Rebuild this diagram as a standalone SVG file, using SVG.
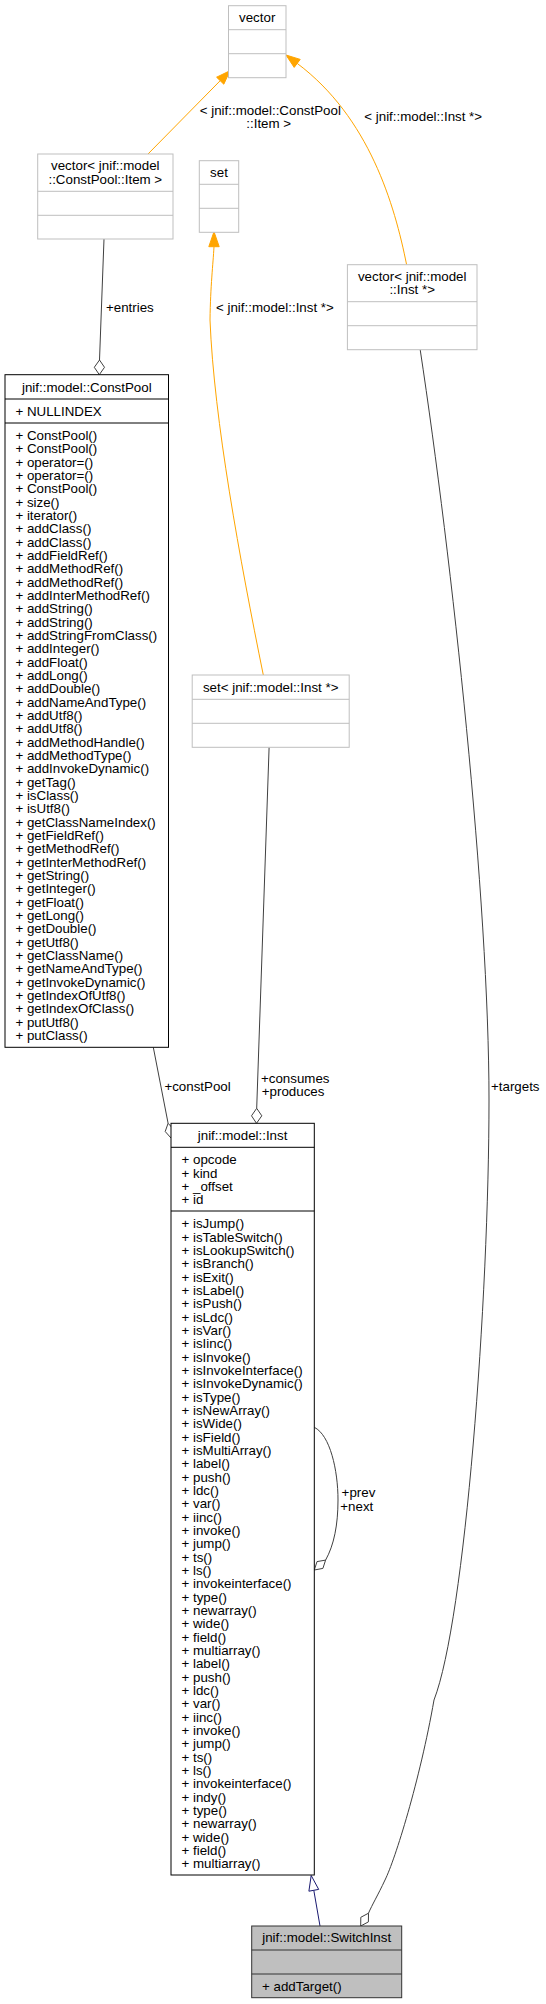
<svg xmlns="http://www.w3.org/2000/svg" width="546" height="2004" viewBox="0 0 546 2004">
<style>
text { font-family: "Liberation Sans", Arial, Helvetica, sans-serif; font-size: 13.33px; fill: #000; }
.c { text-anchor: middle; }
.grey rect, .grey line { stroke: #bfbfbf; stroke-width: 1; fill: #fff; }
.blk rect, .blk line { stroke: #000; stroke-width: 1; fill: #fff; }
.focus rect { fill: #bfbfbf; stroke: #333; stroke-width: 1; }
.focus line { stroke: #333; stroke-width: 1; }
.tmpl { stroke: #ffa500; stroke-width: 1; fill: none; }
.tmplhead { fill: #ffa500; stroke: #ffa500; stroke-width: 1; }
.use { stroke: #404040; stroke-width: 1; fill: none; }
.dia { fill: #fff; stroke: #404040; stroke-width: 1; }
.inh { stroke: #191970; stroke-width: 1; fill: none; }
.inhhead { fill: #fff; stroke: #191970; stroke-width: 1; }
</style>
<rect x="0" y="0" width="546" height="2004" fill="#fff"/>

<g id="connectors">
  <!-- vector<ConstPool::Item> -> vector -->
  <line class="tmpl" x1="148" y1="154" x2="220.2" y2="80.7"/>
  <polygon class="tmplhead" points="230,70.7 223.8,84.2 216.6,77.2"/>
  <text class="c" x="270.3" y="114.5">&lt; jnif::model::ConstPool</text>
  <text class="c" x="268.7" y="128">::Item &gt;</text>
  <!-- vector<Inst*> -> vector -->
  <path class="tmpl" d="M406.6,264.7 C394.6,204.7 369.2,117.4 297.2,63.4"/>
  <polygon class="tmplhead" points="286,55 300.2,59.4 294.2,67.4"/>
  <text x="364.3" y="121">&lt; jnif::model::Inst *&gt;</text>
  <!-- set<Inst*> -> set -->
  <path class="tmpl" d="M263.3,675 C240,560 214,420 210,320 C210.5,285 213,265 214,246.7"/>
  <polygon class="tmplhead" points="214,231.7 219.2,246.7 208.8,246.7"/>
  <text x="216" y="311.7">&lt; jnif::model::Inst *&gt;</text>
  <!-- entries -->
  <line class="use" x1="104" y1="239" x2="99.5" y2="360"/>
  <polygon class="dia" points="99.5,360 104.5,367.3 99.3,374.7 94.3,367.3"/>
  <text x="106" y="311.7">+entries</text>
  <!-- constPool -->
  <line class="use" x1="153.3" y1="1047.3" x2="168.1" y2="1123.3"/>
  <polygon class="dia" points="168.1,1123.3 174,1129.7 171,1138 165.2,1131.5"/>
  <text x="164.4" y="1090.5">+constPool</text>
  <!-- consumes / produces -->
  <line class="use" x1="269.1" y1="747.3" x2="256.7" y2="1108.3"/>
  <polygon class="dia" points="256.7,1108.3 261.8,1115.8 256.5,1123.3 251.5,1115.8"/>
  <text x="261" y="1083">+consumes</text>
  <text x="261.8" y="1096.3">+produces</text>
  <!-- targets -->
  <path class="use" d="M420.2,349.7 C452,560 489,900 489,1100 C489,1300 465,1620 434,1700 C420,1780 395,1860 385,1880 C378,1895 372,1905 368.5,1913.2"/>
  <polygon class="dia" points="368.5,1913.2 368.4,1921.9 360.7,1926 360.8,1917.3"/>
  <text x="491" y="1090.5">+targets</text>
  <!-- prev / next self loop -->
  <path class="use" d="M314.3,1427.3 C330,1435 338,1470 338,1500 C338,1525 334,1545 325.6,1560.1"/>
  <polygon class="dia" points="325.6,1560.1 322.9,1568.4 314.3,1570 317,1561.6"/>
  <text x="341.6" y="1497">+prev</text>
  <text x="340.3" y="1510.5">+next</text>
  <!-- inheritance SwitchInst -> Inst -->
  <line class="inh" x1="320" y1="1926" x2="313.8" y2="1890.3"/>
  <polygon class="inhhead" points="311.2,1875.5 318.7,1889.4 308.9,1891.2"/>
</g>

<g id="node-vector" class="grey">
  <rect x="228.5" y="5.7" width="57.5" height="72"/>
  <line x1="228.5" y1="29.7" x2="286" y2="29.7"/>
  <line x1="228.5" y1="53.7" x2="286" y2="53.7"/>
  <text class="c" x="257.2" y="22">vector</text>
</g>

<g id="node-vector-constpool-item" class="grey">
  <rect x="37.7" y="154" width="135.3" height="85"/>
  <line x1="37.7" y1="191.3" x2="173" y2="191.3"/>
  <line x1="37.7" y1="215.3" x2="173" y2="215.3"/>
  <text class="c" x="105.3" y="170">vector&lt; jnif::model</text>
  <text class="c" x="105.3" y="183.5">::ConstPool::Item &gt;</text>
</g>

<g id="node-set" class="grey">
  <rect x="199.3" y="160.7" width="39.4" height="71.6"/>
  <line x1="199.3" y1="184.3" x2="238.7" y2="184.3"/>
  <line x1="199.3" y1="208.3" x2="238.7" y2="208.3"/>
  <text class="c" x="219" y="177">set</text>
</g>

<g id="node-vector-inst" class="grey">
  <rect x="347.4" y="264.7" width="129.6" height="85"/>
  <line x1="347.4" y1="301.7" x2="477" y2="301.7"/>
  <line x1="347.4" y1="325.7" x2="477" y2="325.7"/>
  <text class="c" x="412.2" y="280.5">vector&lt; jnif::model</text>
  <text class="c" x="412.2" y="294">::Inst *&gt;</text>
</g>

<g id="node-set-inst" class="grey">
  <rect x="192.2" y="675" width="157" height="72.3"/>
  <line x1="192.2" y1="699.3" x2="349.2" y2="699.3"/>
  <line x1="192.2" y1="723.3" x2="349.2" y2="723.3"/>
  <text class="c" x="270.7" y="691.5">set&lt; jnif::model::Inst *&gt;</text>
</g>

<g id="node-constpool" class="blk">
  <rect x="5" y="374.7" width="163.5" height="672.6"/>
  <line x1="5" y1="399" x2="168.5" y2="399"/>
  <line x1="5" y1="423" x2="168.5" y2="423"/>
  <text class="c" x="86.8" y="391.5">jnif::model::ConstPool</text>
  <text x="15.4" y="415.7">+ NULLINDEX</text>
  <text x="15.4" y="440">+ ConstPool()</text>
  <text x="15.4" y="453.33">+ ConstPool()</text>
  <text x="15.4" y="466.67">+ operator=()</text>
  <text x="15.4" y="480">+ operator=()</text>
  <text x="15.4" y="493.33">+ ConstPool()</text>
  <text x="15.4" y="506.67">+ size()</text>
  <text x="15.4" y="520">+ iterator()</text>
  <text x="15.4" y="533.33">+ addClass()</text>
  <text x="15.4" y="546.67">+ addClass()</text>
  <text x="15.4" y="560">+ addFieldRef()</text>
  <text x="15.4" y="573.33">+ addMethodRef()</text>
  <text x="15.4" y="586.67">+ addMethodRef()</text>
  <text x="15.4" y="600">+ addInterMethodRef()</text>
  <text x="15.4" y="613.33">+ addString()</text>
  <text x="15.4" y="626.67">+ addString()</text>
  <text x="15.4" y="640">+ addStringFromClass()</text>
  <text x="15.4" y="653.33">+ addInteger()</text>
  <text x="15.4" y="666.67">+ addFloat()</text>
  <text x="15.4" y="680">+ addLong()</text>
  <text x="15.4" y="693.33">+ addDouble()</text>
  <text x="15.4" y="706.67">+ addNameAndType()</text>
  <text x="15.4" y="720">+ addUtf8()</text>
  <text x="15.4" y="733.33">+ addUtf8()</text>
  <text x="15.4" y="746.67">+ addMethodHandle()</text>
  <text x="15.4" y="760">+ addMethodType()</text>
  <text x="15.4" y="773.33">+ addInvokeDynamic()</text>
  <text x="15.4" y="786.67">+ getTag()</text>
  <text x="15.4" y="800">+ isClass()</text>
  <text x="15.4" y="813.33">+ isUtf8()</text>
  <text x="15.4" y="826.67">+ getClassNameIndex()</text>
  <text x="15.4" y="840">+ getFieldRef()</text>
  <text x="15.4" y="853.33">+ getMethodRef()</text>
  <text x="15.4" y="866.67">+ getInterMethodRef()</text>
  <text x="15.4" y="880">+ getString()</text>
  <text x="15.4" y="893.33">+ getInteger()</text>
  <text x="15.4" y="906.67">+ getFloat()</text>
  <text x="15.4" y="920">+ getLong()</text>
  <text x="15.4" y="933.33">+ getDouble()</text>
  <text x="15.4" y="946.67">+ getUtf8()</text>
  <text x="15.4" y="960">+ getClassName()</text>
  <text x="15.4" y="973.33">+ getNameAndType()</text>
  <text x="15.4" y="986.67">+ getInvokeDynamic()</text>
  <text x="15.4" y="1000">+ getIndexOfUtf8()</text>
  <text x="15.4" y="1013.33">+ getIndexOfClass()</text>
  <text x="15.4" y="1026.67">+ putUtf8()</text>
  <text x="15.4" y="1040">+ putClass()</text>
</g>

<g id="node-inst" class="blk">
  <rect x="171" y="1123.3" width="143.3" height="751.7"/>
  <line x1="171" y1="1147.3" x2="314.3" y2="1147.3"/>
  <line x1="171" y1="1211" x2="314.3" y2="1211"/>
  <text class="c" x="242.6" y="1139.7">jnif::model::Inst</text>
  <text x="181.5" y="1164.3">+ opcode</text>
  <text x="181.5" y="1177.6">+ kind</text>
  <text x="181.5" y="1191">+ _offset</text>
  <text x="181.5" y="1204.3">+ id</text>
  <text x="181.5" y="1228.3">+ isJump()</text>
  <text x="181.5" y="1241.63">+ isTableSwitch()</text>
  <text x="181.5" y="1254.97">+ isLookupSwitch()</text>
  <text x="181.5" y="1268.3">+ isBranch()</text>
  <text x="181.5" y="1281.63">+ isExit()</text>
  <text x="181.5" y="1294.97">+ isLabel()</text>
  <text x="181.5" y="1308.3">+ isPush()</text>
  <text x="181.5" y="1321.63">+ isLdc()</text>
  <text x="181.5" y="1334.97">+ isVar()</text>
  <text x="181.5" y="1348.3">+ isIinc()</text>
  <text x="181.5" y="1361.63">+ isInvoke()</text>
  <text x="181.5" y="1374.97">+ isInvokeInterface()</text>
  <text x="181.5" y="1388.3">+ isInvokeDynamic()</text>
  <text x="181.5" y="1401.63">+ isType()</text>
  <text x="181.5" y="1414.97">+ isNewArray()</text>
  <text x="181.5" y="1428.3">+ isWide()</text>
  <text x="181.5" y="1441.63">+ isField()</text>
  <text x="181.5" y="1454.97">+ isMultiArray()</text>
  <text x="181.5" y="1468.3">+ label()</text>
  <text x="181.5" y="1481.63">+ push()</text>
  <text x="181.5" y="1494.97">+ ldc()</text>
  <text x="181.5" y="1508.3">+ var()</text>
  <text x="181.5" y="1521.63">+ iinc()</text>
  <text x="181.5" y="1534.97">+ invoke()</text>
  <text x="181.5" y="1548.3">+ jump()</text>
  <text x="181.5" y="1561.63">+ ts()</text>
  <text x="181.5" y="1574.97">+ ls()</text>
  <text x="181.5" y="1588.3">+ invokeinterface()</text>
  <text x="181.5" y="1601.63">+ type()</text>
  <text x="181.5" y="1614.97">+ newarray()</text>
  <text x="181.5" y="1628.3">+ wide()</text>
  <text x="181.5" y="1641.63">+ field()</text>
  <text x="181.5" y="1654.97">+ multiarray()</text>
  <text x="181.5" y="1668.3">+ label()</text>
  <text x="181.5" y="1681.63">+ push()</text>
  <text x="181.5" y="1694.97">+ ldc()</text>
  <text x="181.5" y="1708.3">+ var()</text>
  <text x="181.5" y="1721.63">+ iinc()</text>
  <text x="181.5" y="1734.97">+ invoke()</text>
  <text x="181.5" y="1748.3">+ jump()</text>
  <text x="181.5" y="1761.63">+ ts()</text>
  <text x="181.5" y="1774.97">+ ls()</text>
  <text x="181.5" y="1788.3">+ invokeinterface()</text>
  <text x="181.5" y="1801.63">+ indy()</text>
  <text x="181.5" y="1814.97">+ type()</text>
  <text x="181.5" y="1828.3">+ newarray()</text>
  <text x="181.5" y="1841.63">+ wide()</text>
  <text x="181.5" y="1854.97">+ field()</text>
  <text x="181.5" y="1868.3">+ multiarray()</text>
</g>

<g id="node-switchinst" class="focus">
  <rect x="251.7" y="1926" width="150" height="71.7"/>
  <line x1="251.7" y1="1950" x2="401.7" y2="1950"/>
  <line x1="251.7" y1="1974" x2="401.7" y2="1974"/>
  <text class="c" x="326.7" y="1942.3">jnif::model::SwitchInst</text>
  <text x="262" y="1990.5">+ addTarget()</text>
</g>
</svg>
